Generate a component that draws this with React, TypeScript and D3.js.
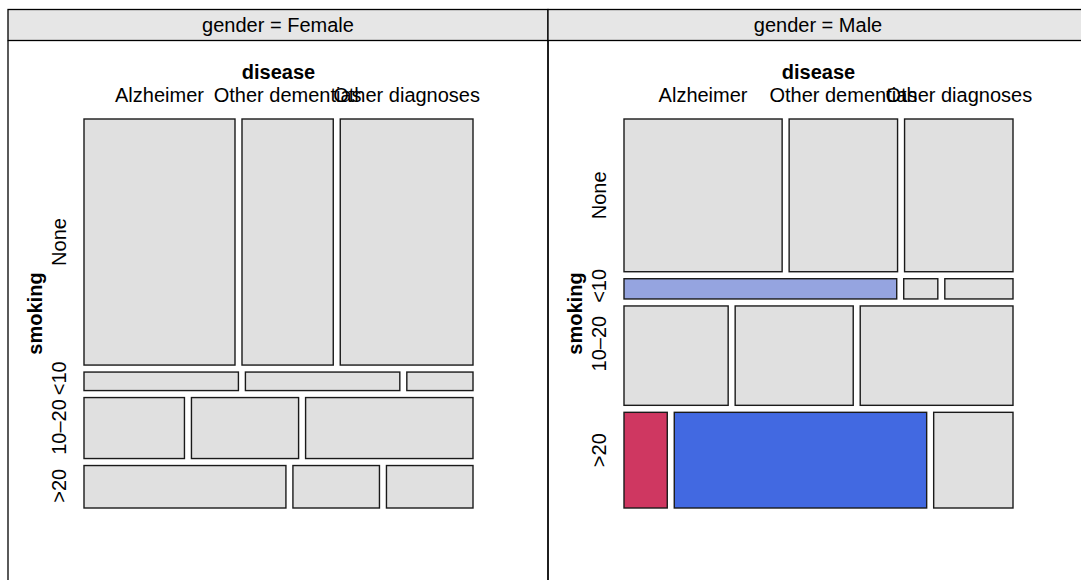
import React from "react";
import * as d3 from "d3";

const genders = ["Female", "Male"];
const smoking = ["None", "<10", "10\u201320", ">20"];
const disease = ["Alzheimer", "Other dementias", "Other diagnoses"];
// counts[smoking][disease] for each gender
const femaleCounts = [
  [91, 55, 80],
  [7, 7, 3],
  [15, 16, 25],
  [21, 9, 9],
];
const maleCounts = [
  [35, 24, 24],
  [8, 1, 2],
  [15, 17, 22],
  [6, 35, 11],
];
// residual shading classes: 0 none, 1 light blue, 2 blue, -2 red
const femaleShade = [
  [0, 0, 0],
  [0, 0, 0],
  [0, 0, 0],
  [0, 0, 0],
];
const maleShade = [
  [0, 0, 0],
  [1, 0, 0],
  [0, 0, 0],
  [-2, 2, 0],
];
const femaleLabelNudge = [0, -3, -1, -1];
const maleLabelNudge = [0, -3, -12, -10];

const shadeColor = (s: number) =>
  s === 2 ? "#4269E1" : s === 1 ? "#95A4E0" : s === -2 ? "#CF3761" : "#E0E0E0";

const FONT = "'Liberation Sans', Arial, Helvetica, sans-serif";

function Panel({ x0, gender, counts, shade, nudge }: any) {
  const panelW = 540;
  const tileL = x0 + 76;
  const tileR = x0 + 465;
  const tileT = 119;
  const tileB = 508;
  const gap = 7;
  const rowTotals = counts.map((r: number[]) => d3.sum(r));
  const total = d3.sum(rowTotals);
  const availH = tileB - tileT - gap * (smoking.length - 1);
  const yScale = d3.scaleLinear().domain([0, total]).range([0, availH]);
  const availW = tileR - tileL - gap * (disease.length - 1);
  const cumRows = d3.cumsum(rowTotals);

  const tiles: any[] = [];
  const rowCenters: number[] = [];
  const topCenters: number[] = [];
  counts.forEach((row: number[], i: number) => {
    const y = tileT + yScale(cumRows[i] - rowTotals[i]) + gap * i;
    const h = yScale(rowTotals[i]);
    rowCenters.push(y + h / 2);
    const xScale = d3.scaleLinear().domain([0, rowTotals[i]]).range([0, availW]);
    const cum = d3.cumsum(row);
    row.forEach((v, j) => {
      const x = tileL + xScale(cum[j] - v) + gap * j;
      const w = xScale(v);
      tiles.push({ x, y, w, h, fill: shadeColor(shade[i][j]), key: `${i}-${j}` });
      if (i === 0) topCenters.push(x + w / 2);
    });
  });

  const cx = x0 + panelW / 2;
  return (
    <g>
      <rect x={x0} y={9.5} width={panelW} height={31} fill="#E6E6E6" stroke="#000" strokeWidth={1.3} />
      <text x={cx} y={32} textAnchor="middle" fontSize={20} fontFamily={FONT} fill="#000">
        {`gender = ${gender}`}
      </text>
      <line x1={x0} x2={x0} y1={40.5} y2={600} stroke="#000" strokeWidth={1.3} />
      <line x1={x0 + panelW} x2={x0 + panelW} y1={40.5} y2={600} stroke="#000" strokeWidth={1.3} />
      <text x={(tileL + tileR) / 2} y={79} textAnchor="middle" fontSize={20} fontWeight="bold" fontFamily={FONT}>
        disease
      </text>
      {disease.map((d, j) => (
        <text key={d} x={topCenters[j]} y={102} textAnchor="middle" fontSize={20} fontFamily={FONT}>
          {d}
        </text>
      ))}
      <text
        transform={`translate(${tileL - 42},${(tileT + tileB) / 2}) rotate(-90)`}
        textAnchor="middle"
        fontSize={20}
        fontWeight="bold"
        fontFamily={FONT}
      >
        smoking
      </text>
      {smoking.map((s, i) => (
        <text
          key={s}
          transform={`translate(${tileL - 18},${rowCenters[i] + nudge[i]}) rotate(-90)`}
          textAnchor="middle"
          fontSize={20}
          fontFamily={FONT}
        >
          {s}
        </text>
      ))}
      {tiles.map((t) => (
        <rect key={t.key} x={t.x} y={t.y} width={t.w} height={t.h} fill={t.fill} stroke="#1a1a1a" strokeWidth={1.4} />
      ))}
    </g>
  );
}

export default function App() {
  return (
    <svg
      width={1081}
      height={580}
      style={{ position: "absolute", left: 0, top: 0, background: "#fff" }}
    >
      <rect x={0} y={0} width={1081} height={580} fill="#fff" />
      <Panel x0={8} gender={genders[0]} counts={femaleCounts} shade={femaleShade} nudge={femaleLabelNudge} />
      <Panel x0={548} gender={genders[1]} counts={maleCounts} shade={maleShade} nudge={maleLabelNudge} />
    </svg>
  );
}
